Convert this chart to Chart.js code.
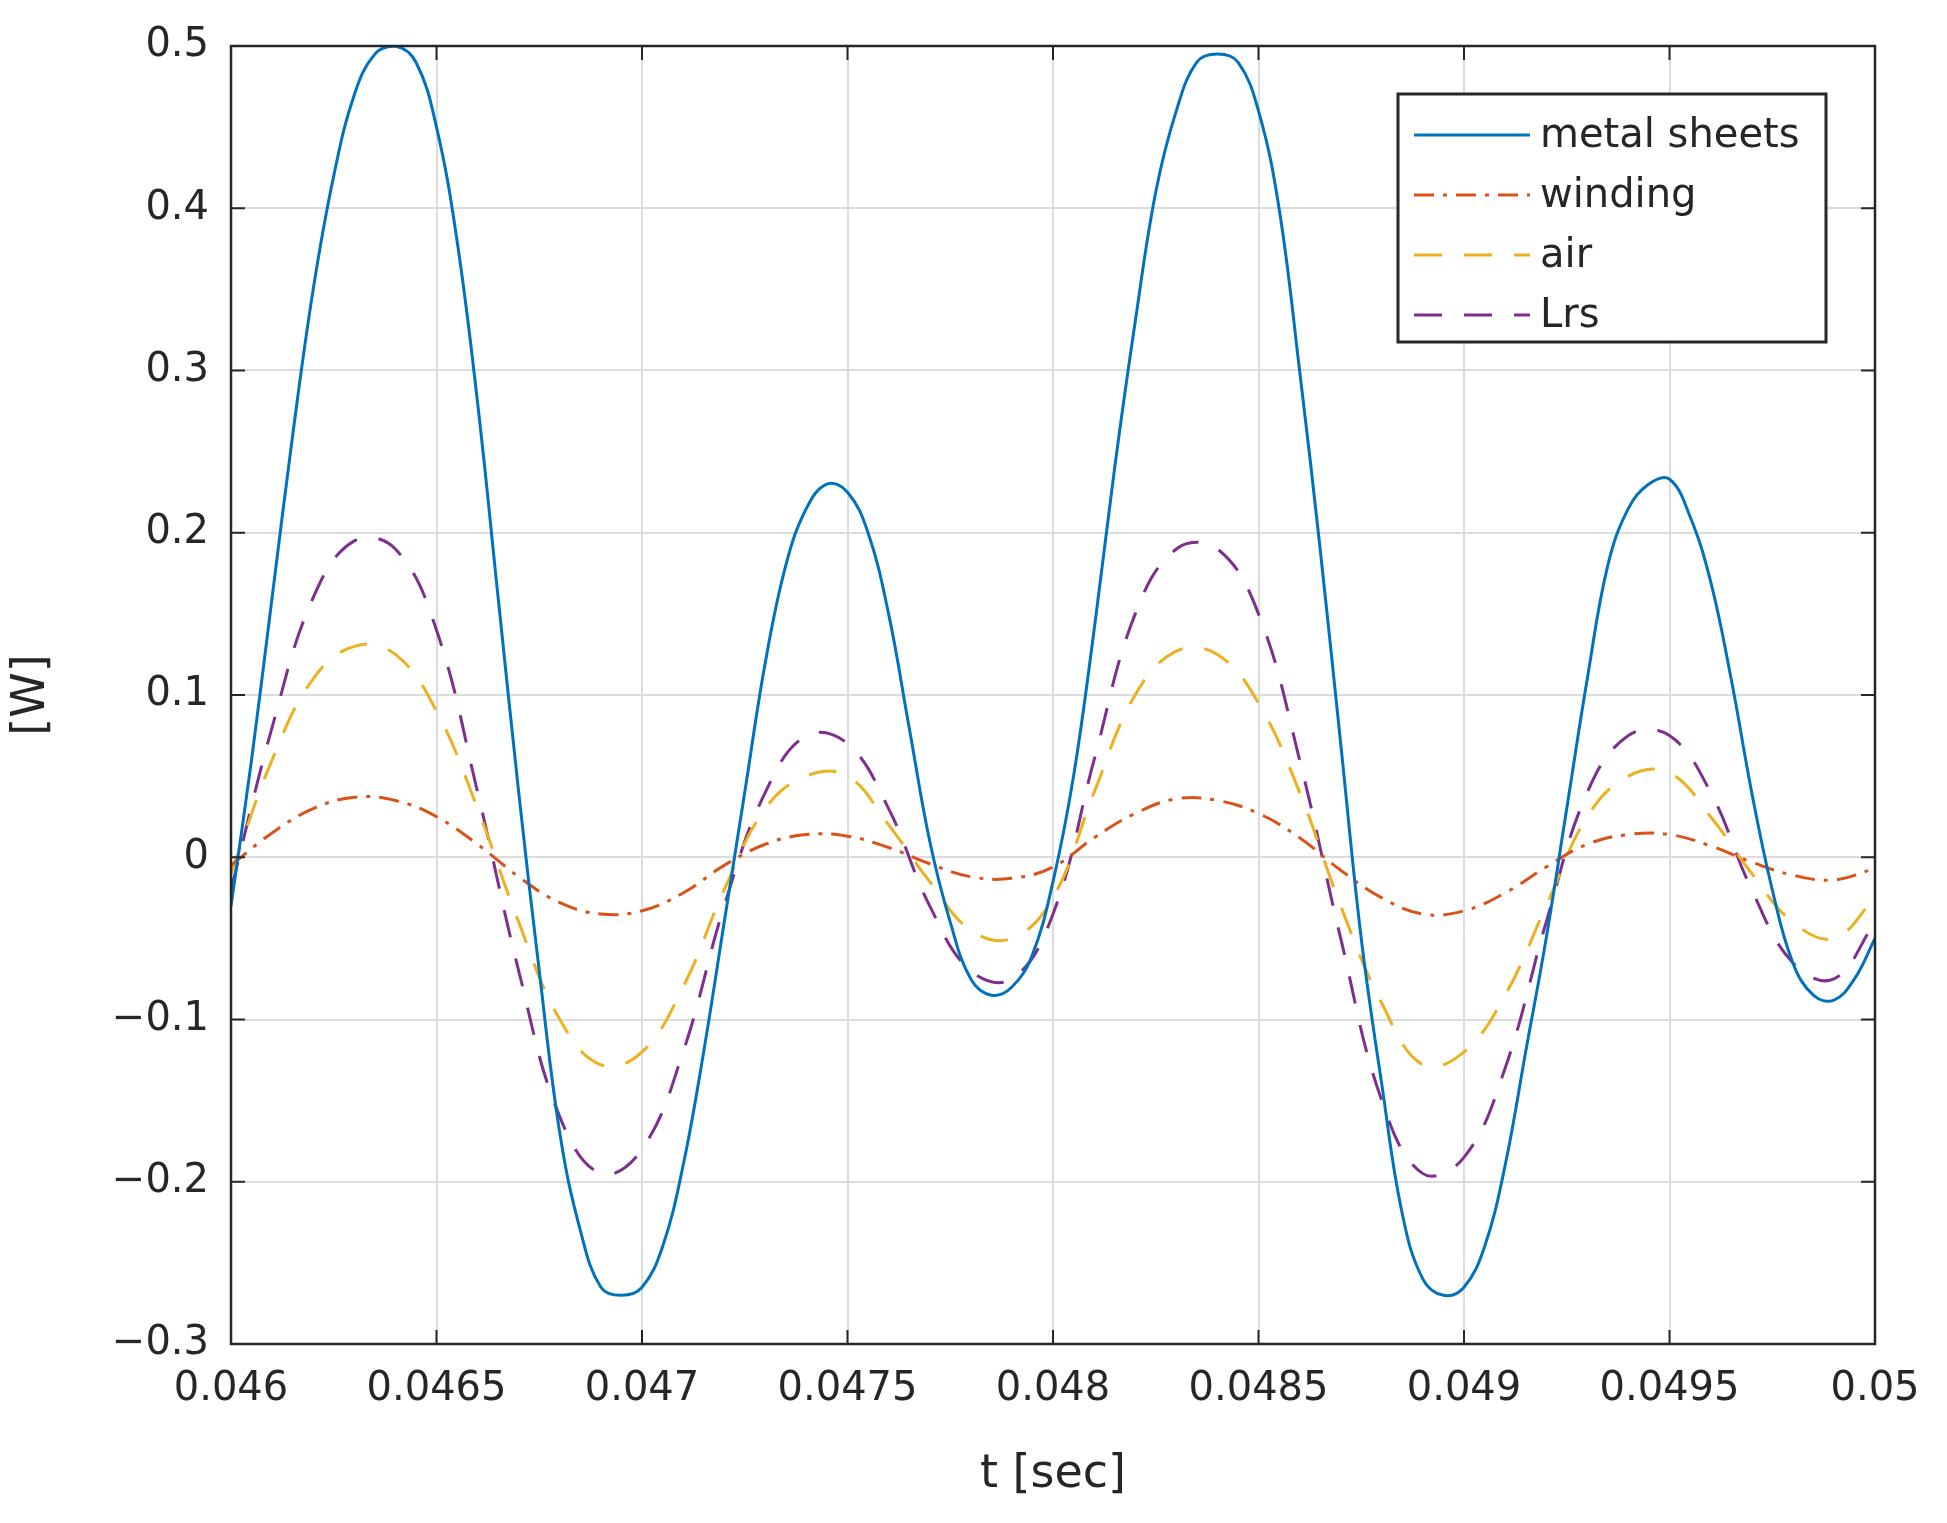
<!DOCTYPE html>
<html><head><meta charset="utf-8">
<script src="https://cdn.jsdelivr.net/npm/chart.js@4"></script>
<style>html,body{margin:0;padding:0;background:#fff}#wrap{width:1947px;height:1523px}</style>
</head><body><div id="wrap"><canvas id="c" width="1947" height="1523"></canvas></div>
<script>
const tFine = [];
for (let i = 0; i <= 80; i++) tFine.push(+(0.046 + i * 0.00005).toFixed(5));
const tCoarse = [];
for (let i = 0; i <= 40; i++) tCoarse.push(+(0.046 + i * 0.0001).toFixed(4));

const metalSheets = [-0.03,0.06,0.16,0.26,0.35,0.42,0.47,0.495,0.50,0.49,0.45,0.38,0.28,0.16,0.04,-0.07,-0.17,-0.23,-0.265,-0.27,-0.265,-0.24,-0.19,-0.12,-0.04,0.04,0.12,0.18,0.215,0.23,0.225,0.20,0.15,0.08,0.01,-0.04,-0.075,-0.085,-0.08,-0.06,-0.015,0.05,0.14,0.24,0.33,0.41,0.46,0.49,0.495,0.49,0.46,0.40,0.30,0.19,0.07,-0.05,-0.14,-0.22,-0.26,-0.27,-0.265,-0.24,-0.19,-0.12,-0.05,0.03,0.11,0.18,0.215,0.23,0.233,0.21,0.17,0.11,0.04,-0.02,-0.065,-0.085,-0.088,-0.075,-0.05];
const winding = [-0.005,0.015,0.03,0.037,0.035,0.025,0.008,-0.012,-0.028,-0.035,-0.033,-0.022,-0.005,0.008,0.014,0.013,0.006,-0.004,-0.012,-0.013,-0.006,0.012,0.027,0.036,0.035,0.027,0.012,-0.008,-0.025,-0.035,-0.033,-0.022,-0.006,0.008,0.014,0.014,0.007,-0.003,-0.011,-0.014,-0.007];
const air = [-0.01,0.06,0.11,0.13,0.125,0.09,0.03,-0.04,-0.10,-0.128,-0.12,-0.08,-0.02,0.03,0.05,0.05,0.02,-0.015,-0.045,-0.05,-0.025,0.04,0.10,0.127,0.125,0.095,0.04,-0.03,-0.09,-0.128,-0.12,-0.085,-0.03,0.025,0.05,0.052,0.025,-0.01,-0.04,-0.05,-0.025];
const lrs = [-0.02,0.08,0.16,0.195,0.19,0.14,0.04,-0.07,-0.16,-0.195,-0.18,-0.12,-0.03,0.04,0.075,0.07,0.03,-0.03,-0.07,-0.075,-0.035,0.06,0.15,0.19,0.19,0.15,0.06,-0.05,-0.15,-0.195,-0.185,-0.13,-0.04,0.04,0.075,0.075,0.04,-0.02,-0.065,-0.075,-0.04];

const xTickLabels = ['0.046','0.0465','0.047','0.0475','0.048','0.0485','0.049','0.0495','0.05'];
const yTickLabels = ['\u22120.3','\u22120.2','\u22120.1','0','0.1','0.2','0.3','0.4','0.5'];
const seriesNames = ['metal sheets','winding','air','Lrs'];

const pts = (xs, ys) => xs.map((x, i) => ({x, y: ys[i]}));
const FONT = 'DejaVu Sans';

const frame = {
  id: 'frame',
  afterDraw(chart) {
    const {ctx, chartArea: a} = chart;
    ctx.save();
    ctx.strokeStyle = '#262626'; ctx.lineWidth = 2.5;
    ctx.strokeRect(a.left, a.top, a.right - a.left, a.bottom - a.top);
    const xs = chart.scales.x, ys = chart.scales.y;
    ctx.lineWidth = 2;
    xs.ticks.forEach(t => { const p = xs.getPixelForValue(t.value);
      ctx.beginPath(); ctx.moveTo(p, a.bottom); ctx.lineTo(p, a.bottom - 14); ctx.moveTo(p, a.top); ctx.lineTo(p, a.top + 14); ctx.stroke(); });
    ys.ticks.forEach(t => { const p = ys.getPixelForValue(t.value);
      ctx.beginPath(); ctx.moveTo(a.left, p); ctx.lineTo(a.left + 14, p); ctx.moveTo(a.right, p); ctx.lineTo(a.right - 14, p); ctx.stroke(); });
    const lx = 1398, ly = 94, lw = 428, lh = 248;
    ctx.fillStyle = '#fff'; ctx.fillRect(lx, ly, lw, lh);
    ctx.strokeStyle = '#262626'; ctx.lineWidth = 3; ctx.strokeRect(lx, ly, lw, lh);
    ctx.font = '40px "' + FONT + '"'; ctx.textBaseline = 'middle';
    chart.data.datasets.forEach((ds, i) => {
      const y = ly + 41 + i * 60;
      ctx.strokeStyle = ds.borderColor; ctx.lineWidth = 3; ctx.setLineDash(ds.borderDash || []);
      ctx.beginPath(); ctx.moveTo(lx + 16, y); ctx.lineTo(lx + 132, y); ctx.stroke();
      ctx.setLineDash([]);
      ctx.fillStyle = '#262626'; ctx.fillText(ds.label, lx + 142, y + 2);
    });
    ctx.restore();
  }
};

new Chart(document.getElementById('c'), {
  type: 'line',
  data: { datasets: [
    { label: seriesNames[0], data: pts(tFine, metalSheets), borderColor: '#0072BD', borderWidth: 3, pointRadius: 0, tension: 0.4 },
    { label: seriesNames[1], data: pts(tCoarse, winding), borderColor: '#D95319', borderWidth: 3, borderDash: [20, 9, 4, 9], pointRadius: 0, tension: 0.4 },
    { label: seriesNames[2], data: pts(tCoarse, air), borderColor: '#EDB120', borderWidth: 3, borderDash: [28, 22], pointRadius: 0, tension: 0.4 },
    { label: seriesNames[3], data: pts(tCoarse, lrs), borderColor: '#7E2F8E', borderWidth: 3, borderDash: [28, 22], pointRadius: 0, tension: 0.4 }
  ]},
  options: {
    responsive: false, animation: false, devicePixelRatio: 1,
    layout: { padding: { top: 44, right: 72, left: 0, bottom: 0 } },
    plugins: { legend: { display: false }, tooltip: { enabled: false } },
    scales: {
      x: { type: 'linear', min: 0.046, max: 0.05,
        afterBuildTicks: s => { s.ticks = xTickLabels.map(v => ({value: parseFloat(v)})); },
        afterFit: s => { s.height = 179; },
        ticks: { callback: (v) => xTickLabels.find(l => Math.abs(parseFloat(l) - v) < 1e-9) || '', color: '#262626', font: { family: FONT, size: 40 }, padding: 22, maxRotation: 0, autoSkip: false },
        grid: { color: '#dcdcdc', lineWidth: 2, drawTicks: false },
        border: { display: false },
        title: { display: true, text: 't [sec]', color: '#262626', font: { family: FONT, size: 46 }, padding: { top: 0, bottom: 20 } } },
      y: { type: 'linear', min: -0.3, max: 0.5,
        afterBuildTicks: s => { s.ticks = yTickLabels.map((l, i) => ({value: -0.3 + i * 0.1})); },
        afterFit: s => { s.width = 231; },
        ticks: { callback: (v) => yTickLabels[Math.round((v + 0.3) * 10)], color: '#262626', font: { family: FONT, size: 40 }, padding: 22 },
        grid: { color: '#dcdcdc', lineWidth: 2, drawTicks: false },
        border: { display: false },
        title: { display: true, text: '[W]', color: '#262626', font: { family: FONT, size: 46 }, padding: { bottom: 10 } } }
    }
  },
  plugins: [frame]
});
</script></body></html>
